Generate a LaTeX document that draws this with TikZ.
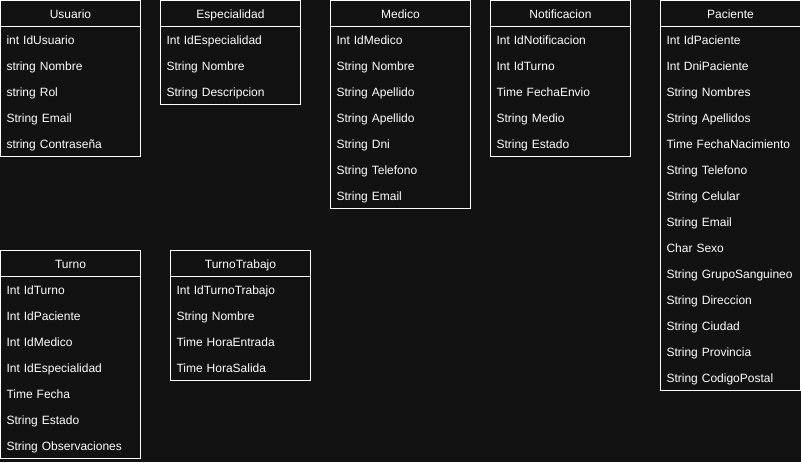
\documentclass[tikz,border=0pt]{standalone}
\usepackage{fontspec}
\setmainfont{Liberation Sans}
\usetikzlibrary{matrix}
\definecolor{fondo}{HTML}{121212}
\definecolor{texto}{HTML}{FFFFFF}

\begin{document}
\begin{tikzpicture}[
        x=0.75pt, y=-0.75pt,
        font=\fontsize{9pt}{11pt}\selectfont, text=texto,
        linea/.style={draw=white, line width=0.75pt},
        tabla/.style={
            matrix of nodes, linea,
            inner sep=0pt, outer sep=0pt, row sep=0pt,
            anchor=north west,
            nodes={minimum height=19.5pt, text width=96pt,
                text height=9pt, text depth=1.2pt,
                inner xsep=4.5pt, inner ysep=0pt, align=left}
        },
        titulo/.style={align=center}
        ]
            \useasboundingbox[fill=fondo] (0,0) rectangle (801,462);

            % Tablas arriba
            \matrix (usuario) [tabla] at (0.5,0.5)
            {
                |[titulo]| Usuario \\
                int IdUsuario \\
                string Nombre \\
                string Rol \\
                String Email \\
                string Contraseña \\
            };
            \matrix (especialidad) [tabla] at (160.5,0.5)
            {
                |[titulo]| Especialidad \\
                Int IdEspecialidad \\
                String Nombre \\
                String Descripcion \\
            };
            \matrix (medico) [tabla] at (330.5,0.5)
            {
                |[titulo]| Medico \\
                Int IdMedico \\
                String Nombre \\
                String Apellido \\
                String Apellido \\
                String Dni \\
                String Telefono \\
                String Email \\
            };
            \matrix (notificacion) [tabla] at (490.5,0.5)
            {
                |[titulo]| Notificacion \\
                Int IdNotificacion \\
                Int IdTurno \\
                Time FechaEnvio \\
                String Medio \\
                String Estado \\
            };
            \matrix (paciente) [tabla] at (660.5,0.5)
            {
                |[titulo]| Paciente \\
                Int IdPaciente \\
                Int DniPaciente \\
                String Nombres \\
                String Apellidos \\
                Time FechaNacimiento \\
                String Telefono \\
                String Celular \\
                String Email \\
                Char Sexo \\
                String GrupoSanguineo \\
                String Direccion \\
                String Ciudad \\
                String Provincia \\
                String CodigoPostal \\
            };

            % Tablas abajo
            \matrix (turno) [tabla] at (0.5,250.5)
            {
                |[titulo]| Turno \\
                Int IdTurno \\
                Int IdPaciente \\
                Int IdMedico \\
                Int IdEspecialidad \\
                Time Fecha \\
                String Estado \\
                String Observaciones \\
            };
            \matrix (turnotrabajo) [tabla] at (170.5,250.5)
            {
                |[titulo]| TurnoTrabajo \\
                Int IdTurnoTrabajo \\
                String Nombre \\
                Time HoraEntrada \\
                Time HoraSalida \\
            };

            % Linea bajo el titulo
            \foreach \t in {usuario,especialidad,medico,notificacion,paciente,turno,turnotrabajo}
                \draw [linea] (\t-1-1.south west) -- (\t-1-1.south east);

        \end{tikzpicture}
\end{document}
